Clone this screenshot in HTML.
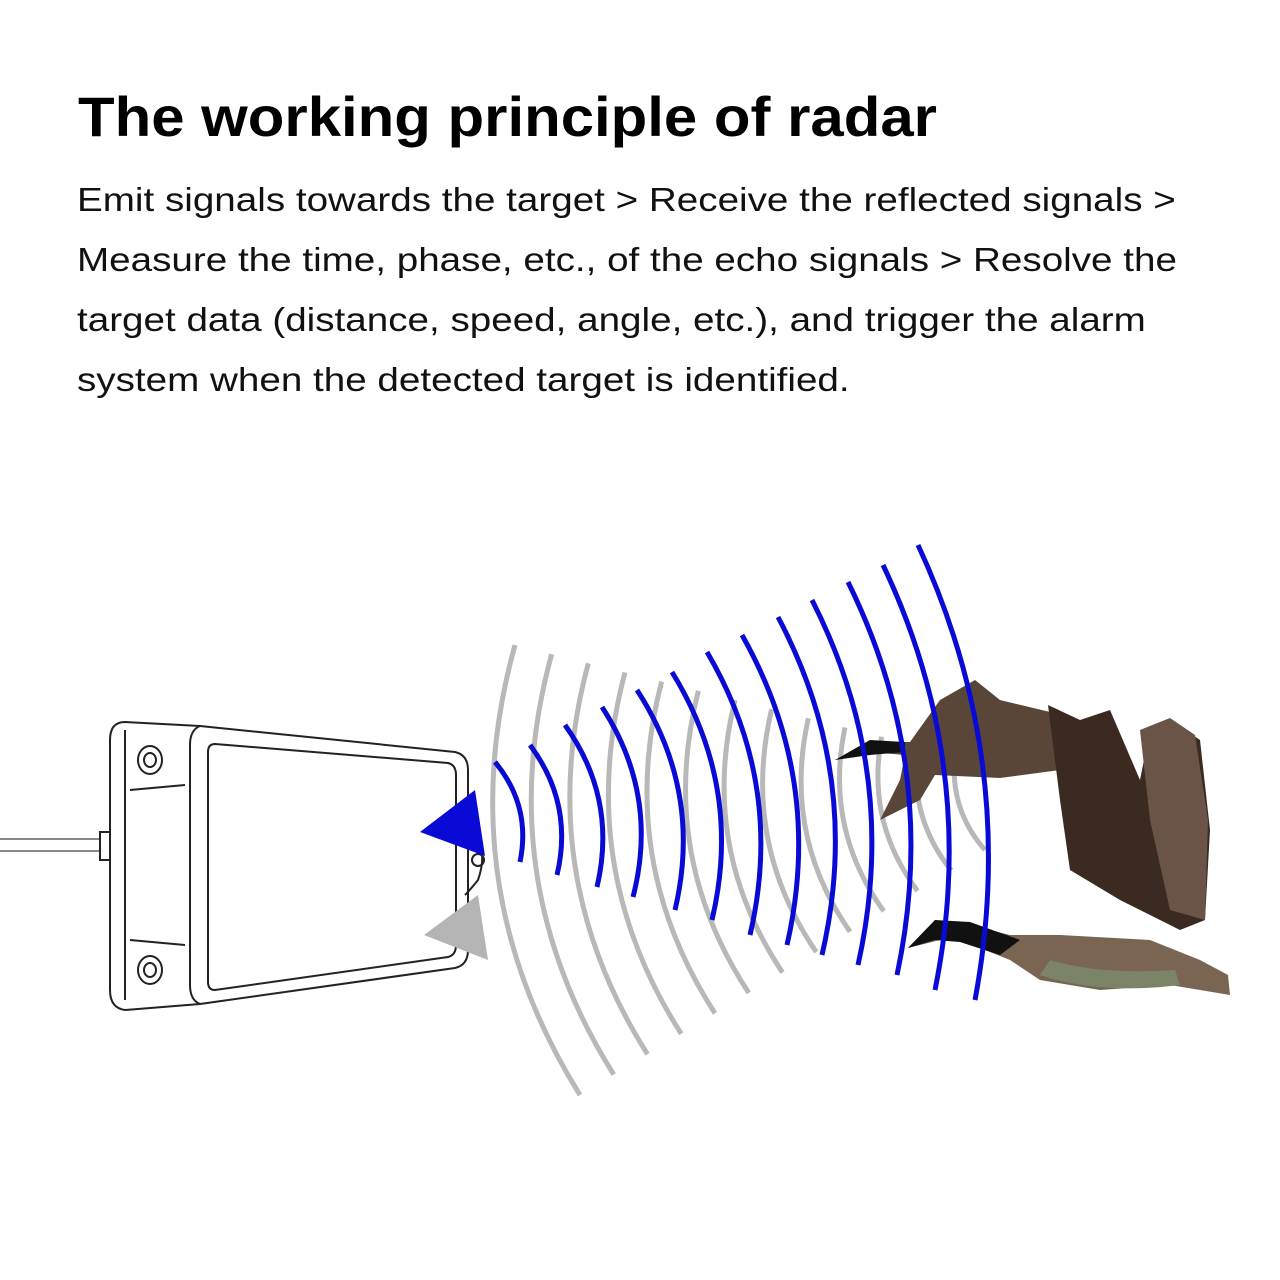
<!DOCTYPE html>
<html><head><meta charset="utf-8"><style>
html,body{margin:0;padding:0;background:#fff;}
body{width:1280px;height:1280px;position:relative;overflow:hidden;font-family:"Liberation Sans",sans-serif;}
h1{position:absolute;left:78px;top:84px;margin:0;font-size:56px;font-weight:bold;letter-spacing:0px;color:#000;transform:scaleX(1.07);transform-origin:left;}
p{position:absolute;left:77px;top:170px;margin:0;white-space:nowrap;font-size:33px;line-height:60px;color:#111;transform:scaleX(1.17);transform-origin:left;}
svg{position:absolute;left:0;top:0;}
</style></head><body>
<h1>The working principle of radar</h1>
<p>Emit signals towards the target &gt; Receive the reflected signals &gt;<br>Measure the time, phase, etc., of the echo signals &gt; Resolve the<br>target data (distance, speed, angle, etc.), and trigger the alarm<br>system when the detected target is identified.</p>
<svg width="1280" height="1280" viewBox="0 0 1280 1280">
<g fill="none" stroke="#222" stroke-width="2">
<line x1="0" y1="845" x2="104" y2="845" stroke="#888" stroke-width="14"/>
<line x1="0" y1="845" x2="104" y2="845" stroke="#fff" stroke-width="10"/>
<rect x="100" y="832" width="14" height="28" fill="#fff"/>
<path d="M125 722 L200 726 L455 752 Q468 755 468 770 L468 950 Q468 965 455 968 L200 1004 L125 1010 Q110 1008 110 990 L110 740 Q110 722 125 722 Z" fill="#fff"/>
<path d="M200 726 Q190 730 190 745 L190 985 Q190 1000 200 1004"/>
<path d="M215 744 L448 763 Q456 765 456 775 L456 945 Q456 955 448 957 L215 990 Q208 990 208 982 L208 752 Q208 744 215 744 Z"/>
<line x1="125" y1="730" x2="125" y2="1000"/>
<ellipse cx="150" cy="760" rx="12" ry="14"/><ellipse cx="150" cy="760" rx="6" ry="7"/>
<ellipse cx="150" cy="970" rx="12" ry="14"/><ellipse cx="150" cy="970" rx="6" ry="7"/>
<path d="M130 790 L185 785 M130 940 L185 945"/>
<path d="M468 830 Q490 845 478 880 Q470 890 465 895"/>
<circle cx="478" cy="860" r="6"/>
</g>
<polygon points="420,832 475,790 485,856" fill="#0a0ad6"/>
<polygon points="424,935 478,895 488,960" fill="#b4b4b4"/>
<g id="gray" fill="none" stroke="#b8b8b8" stroke-width="5"></g>
<g id="geese">
<path d="M835 760 L870 742 L910 742 L940 700 L975 680 L1000 700 L1050 712 L1060 770 L1000 778 L935 775 L920 800 L880 820 L900 780 L905 755 L870 752 Z" fill="#5a4638"/>
<path d="M835 760 L870 740 L905 742 L905 752 L870 755 Z" fill="#111"/>
<path d="M1048 705 L1080 720 L1110 710 L1140 780 L1150 730 L1170 720 L1200 740 L1210 830 L1205 920 L1180 930 L1120 900 L1070 870 L1060 800 Z" fill="#3a2a22"/>
<path d="M1140 730 L1170 718 L1195 735 L1208 820 L1205 920 L1170 910 L1150 820 Z" fill="#6a5448"/>
<path d="M908 948 L935 920 L970 925 L1010 935 L1060 935 L1150 940 L1200 960 L1228 975 L1230 995 L1200 990 L1170 985 L1100 990 L1040 980 L1010 960 L960 940 L940 940 Z" fill="#7a6452"/>
<path d="M908 948 L935 920 L970 922 L1020 940 L1000 955 L960 942 L935 940 Z" fill="#111"/>
<path d="M1040 975 Q1100 995 1180 985 L1175 970 Q1100 975 1050 960 Z" fill="#7c8468"/>
</g>
<g id="blue" fill="none" stroke="#0a0ad6" stroke-width="5"></g>
</svg>
<script>
function arcs(id, tops, bots, sag){
 var g=document.getElementById(id),s='';
 for(var i=0;i<tops.length;i++){
  var a=tops[i],b=bots[i],mx=(a[0]+b[0])/2,my=(a[1]+b[1])/2,dx=b[0]-a[0],dy=b[1]-a[1],L=Math.hypot(dx,dy);
  var sg=typeof sag==='function'?sag(i):sag;
  var nx=dy/L,ny=-dx/L,k=2*sg*L;
  s+='<path d="M'+a[0]+' '+a[1]+' Q'+(mx+nx*k)+' '+(my+ny*k)+' '+b[0]+' '+b[1]+'"/>';
 }
 g.innerHTML=s;
}
var bt=[[495,762],[530,745],[565,725],[602,707],[637,690],[672,672],[707,652],[742,635],[778,617],[812,600],[848,582],[883,565],[918,545]];
var bb=[[520,862],[557,875],[597,887],[633,897],[675,910],[712,920],[750,935],[787,945],[822,955],[858,965],[897,975],[935,990],[975,1000]];
var gt=[],gb=[];
for(var i=0;i<13;i++){var t=i/12;
 gt.push([515+t*440,645+t*110]);
 gb.push([580+t*405,1095-t*245]);}
arcs('gray',gt,gb,-0.11);
arcs('blue',bt,bb,function(i){return 0.12-0.04*i/12;});
</script>
</body></html>
